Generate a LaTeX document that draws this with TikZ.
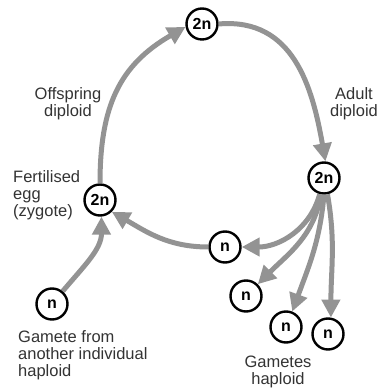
\documentclass[tikz,border=0pt]{standalone}
\usepackage{fontspec}
\setmainfont{Liberation Sans}
\usetikzlibrary{arrows.meta}
\definecolor{cyclegray}{HTML}{939393}
\definecolor{labelink}{HTML}{333333}

\tikzset{
  cell/.style={circle, draw=black, line width=2.4pt, fill=white, minimum size=31pt,
    inner sep=0pt, font=\fontsize{16}{16}\selectfont\bfseries},
  flow/.style={draw=cyclegray, line width=5pt,
    -{Triangle[length=18pt, width=18pt]}},
  caption/.style={inner sep=0pt, text=labelink, font=\fontsize{16.5}{17}\selectfont}
}

\begin{document}
\begin{tikzpicture}[x=1pt, y=1pt]
  \useasboundingbox (0,0) rectangle (388,388);

  % Zellen (diploid)
  \node[cell] (top) at (202,364) {2n};
  \node[cell] (adult) at (324,210) {2n};
  \node[cell] (zyg) at (100,188) {2n};

  % Gameten (haploid)
  \node[cell] (ga) at (225,141) {n};
  \node[cell] (gb) at (246,92) {n};
  \node[cell] (gc) at (286,61) {n};
  \node[cell] (gd) at (328,54) {n};
  \node[cell] (other) at (52,84) {n};

  % Zyklus
  \draw[flow] (zyg.north) to[out=90, in=210, looseness=1.1] (top.190);
  \draw[flow] (top.east) to[out=5, in=100, looseness=1.1] (adult.85);
  \draw[flow] (ga.west) to[out=180, in=-30] (zyg.-45);
  \draw[flow] (other.50) to[out=50, in=-90] (zyg.-85);

  % Meiose
  \draw[flow] (adult.-105) to[out=-105, in=0] (ga.east);
  \draw[flow] (adult.-100) to[out=-100, in=45] (gb.45);
  \draw[flow] (adult.-90) to[out=-95, in=70] (gc.68);
  \draw[flow] (adult.-78) to[out=-80, in=90] (gd.80);

  % Beschriftungen (Anker auf der letzten Zeile)
  \node[caption, align=center, anchor=base] (offlbl) at (68,271) {Offspring\\diploid};
  \node[caption, align=center, anchor=base] (adultlbl) at (354,271) {Adult\\diploid};
  \node[caption, align=left, anchor=base west] (zyglbl) at (13,171) {Fertilised\\egg\\(zygote)};
  \node[caption, align=left, anchor=base west] (otherlbl) at (18,12) {Gamete from\\another individual\\haploid};
  \node[caption, align=center, anchor=base] (gamlbl) at (278,4) {Gametes\\haploid};
\end{tikzpicture}
\end{document}
